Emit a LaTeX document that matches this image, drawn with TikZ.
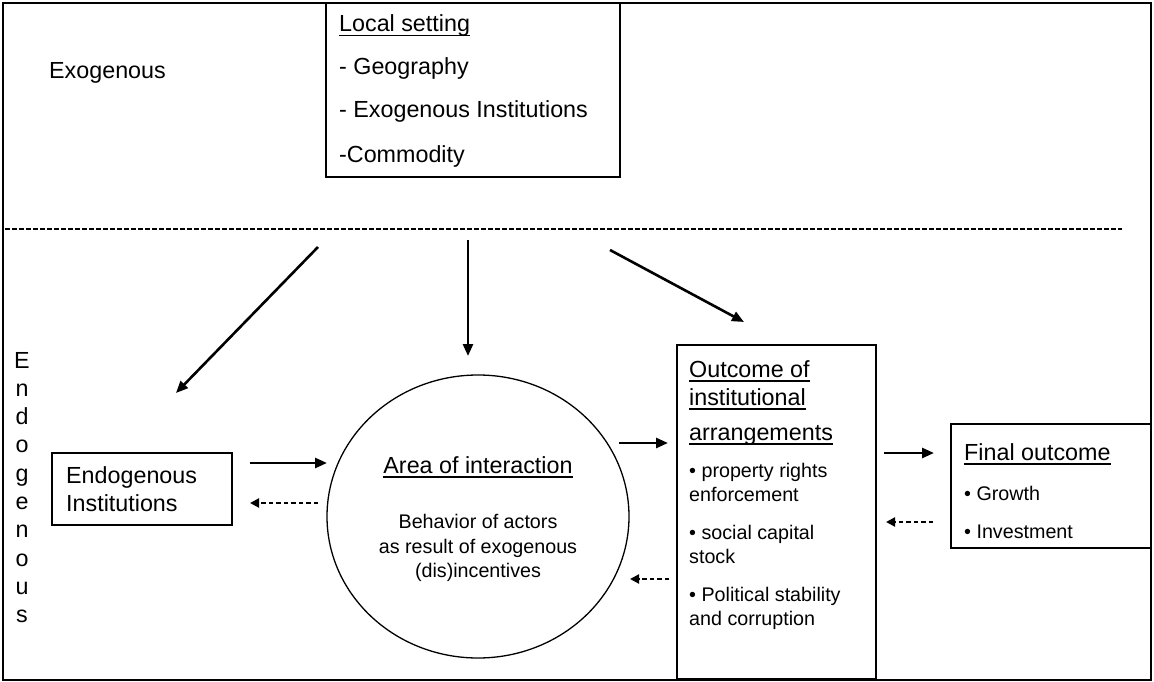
\documentclass[tikz,border=0pt]{standalone}
\usepackage{fontspec}
\setmainfont{Liberation Sans}
\usetikzlibrary{arrows.meta,shapes.geometric}

\newcommand{\fbig}{\fontsize{23.3}{28}\selectfont}
\newcommand{\fsmall}{\fontsize{19.7}{24}\selectfont}
% underline at a fixed depth below the baseline
\newcommand{\ulx}[1]{\setbox0\hbox{#1}\rlap{\rule[-4.5pt]{\wd0}{1.4pt}}\box0}

\tikzset{
  frame/.style={draw, line width=2.2pt},
  box/.style={draw, line width=1.3pt, inner sep=0pt},
  big/.style={inner sep=0pt, anchor=base west, font=\fbig},
  small/.style={inner sep=0pt, anchor=base west, font=\fsmall},
  cbig/.style={inner sep=0pt, anchor=base, font=\fbig},
  csmall/.style={inner sep=0pt, anchor=base, font=\fsmall},
  vletter/.style={inner sep=0pt, anchor=base, font=\fbig},
  arr/.style={line width=2.6pt, -{Triangle[length=12pt,width=10pt]}},
  darr/.style={line width=2pt, dash pattern=on 4.5pt off 3pt, -{Triangle[length=9pt,width=9pt]}},
  divider/.style={line width=1.8pt, dash pattern=on 4.5pt off 2.5pt},
}

\begin{document}
\begin{tikzpicture}[x=1pt, y=-1pt]
\useasboundingbox (0,0) rectangle (1154,682);

% outer frame and divider between the two layers
\draw[frame] (3,3) rectangle (1151,680);
\draw[divider] (5,229) -- (1122,229);

% exogenous layer
\node[big] (exo) at (49,79) {Exogenous};
\node[box, minimum width=294pt, minimum height=174pt] (local) at (473,90) {};
\node[big] (local1) at (339,32) {\ulx{Local setting}};
\node[big] (local2) at (339,75) {- Geography};
\node[big] (local3) at (339,118) {- Exogenous Institutions};
\node[big] (local4) at (339,162) {-Commodity};

% endogenous layer label, one letter per line
\foreach \ch [count=\i from 0] in {E,n,d,o,g,e,n,o,u,s}
  \node[vletter] (endo\i) at (22,368+28.3*\i) {\ch};

% endogenous institutions
\node[box, minimum width=180pt, minimum height=72pt] (endo) at (142,489) {};
\node[big] (endo1) at (66,483) {Endogenous};
\node[big] (endo2) at (66,511) {Institutions};

% area of interaction
\node[draw, ellipse, line width=1.3pt, inner sep=0pt,
      minimum width=302pt, minimum height=283pt] (area) at (478,516.5) {};
\node[cbig] (area1) at (478,473) {\ulx{Area of interaction}};
\node[csmall] (area2) at (478,528) {Behavior of actors};
\node[csmall] (area3) at (478,553) {as result of exogenous};
\node[csmall] (area4) at (478,577) {(dis)incentives};

% outcome of institutional arrangements
\node[box, minimum width=199pt, minimum height=334pt] (out) at (776.5,512) {};
\node[big] (out1) at (689,377) {\ulx{Outcome of}};
\node[big] (out2) at (689,405) {\ulx{institutional}};
\node[big] (out3) at (689,440) {\ulx{arrangements}};
\node[small] (out4) at (689,477) {• property rights};
\node[small] (out5) at (689,501) {enforcement};
\node[small] (out6) at (689,539) {• social capital};
\node[small] (out7) at (689,563) {stock};
\node[small] (out8) at (689,601) {• Political stability};
\node[small] (out9) at (689,625) {and corruption};

% final outcome
\node[box, minimum width=200pt, minimum height=124pt] (final) at (1051,486) {};
\node[big] (fin1) at (964,460) {\ulx{Final outcome}};
\node[small] (fin2) at (964,500) {• Growth};
\node[small] (fin3) at (964,538) {• Investment};

% arrow end points
\coordinate (a1s) at (318,247);  \coordinate (a1e) at (176,393);
\coordinate (a2s) at (468,240);  \coordinate (a2e) at (468,356);
\coordinate (a3s) at (610,250);  \coordinate (a3e) at (744,322);
\coordinate (ea1) at (250,463);  \coordinate (ea2) at (327,463);
\coordinate (ae1) at (318,503);  \coordinate (ae2) at (250,503);
\coordinate (ao1) at (619,443);  \coordinate (ao2) at (668,443);
\coordinate (oa1) at (669,579);  \coordinate (oa2) at (630,579);
\coordinate (of1) at (884,453);  \coordinate (of2) at (934,453);
\coordinate (fo1) at (933,522);  \coordinate (fo2) at (886,522);

% influences of the local setting
\draw[arr] (a1s) -- (a1e);
\draw[arr] (a2s) -- (a2e);
\draw[arr] (a3s) -- (a3e);

% interactions and feedbacks
\draw[arr]  (ea1) -- (ea2);
\draw[darr] (ae1) -- (ae2);
\draw[arr]  (ao1) -- (ao2);
\draw[darr] (oa1) -- (oa2);
\draw[arr]  (of1) -- (of2);
\draw[darr] (fo1) -- (fo2);
\end{tikzpicture}
\end{document}
